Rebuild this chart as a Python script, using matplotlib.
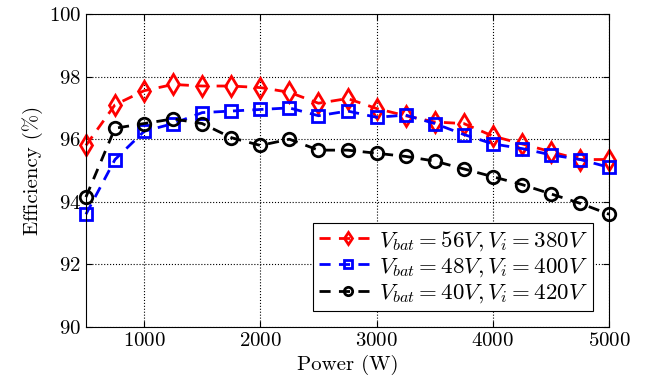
import matplotlib
matplotlib.use("Agg")
import matplotlib.pyplot as plt

plt.rcParams['font.family'] = 'serif'
plt.rcParams['font.serif'] = ['cmr10', 'DejaVu Serif']
plt.rcParams['mathtext.fontset'] = 'cm'
plt.rcParams['axes.formatter.use_mathtext'] = True

power = [500, 750, 1000, 1250, 1500, 1750, 2000, 2250, 2500, 2750,
         3000, 3250, 3500, 3750, 4000, 4250, 4500, 4750, 5000]
eff_56 = [95.8, 97.1, 97.55, 97.75, 97.7, 97.7, 97.65, 97.5, 97.15, 97.3,
          96.98, 96.75, 96.55, 96.5, 96.1, 95.85, 95.6, 95.35, 95.35]
eff_48 = [93.6, 95.35, 96.25, 96.5, 96.85, 96.9, 96.95, 97.0, 96.75, 96.9,
          96.7, 96.77, 96.5, 96.15, 95.85, 95.7, 95.5, 95.35, 95.1]
eff_40 = [94.15, 96.35, 96.5, 96.65, 96.5, 96.05, 95.8, 96.0, 95.65, 95.65,
          95.55, 95.45, 95.3, 95.05, 94.8, 94.55, 94.25, 93.95, 93.6]
labels = [r'$V_{bat}=56V,V_i=380V$', r'$V_{bat}=48V,V_i=400V$', r'$V_{bat}=40V,V_i=420V$']

fig = plt.figure(figsize=(6.46, 3.91), dpi=100)
ax = fig.add_axes([0.133, 0.164, 0.81, 0.8])

ax.plot(power, eff_56, ls=(0, (4, 3)), color='red', lw=2, marker='d', ms=10,
        mfc='none', mew=2, label=labels[0], clip_on=False)
ax.plot(power, eff_48, ls=(0, (4, 3)), color='blue', lw=2, marker='s', ms=8,
        mfc='none', mew=2, label=labels[1], clip_on=False)
ax.plot(power, eff_40, ls=(0, (4, 3)), color='black', lw=2, marker='o', ms=9,
        mfc='none', mew=2, label=labels[2], clip_on=False)

ax.set_xlim(500, 5000)
ax.set_ylim(90, 100)
ax.set_xticks([1000, 2000, 3000, 4000, 5000])
ax.set_yticks([90, 92, 94, 96, 98, 100])
ax.grid(True, ls=':', color='black', lw=0.8)
ax.tick_params(direction='in', top=True, right=True, labelsize=15, length=4)
for s in ax.spines.values():
    s.set_linewidth(0.8)
ax.set_xlabel('Power (W)', fontsize=15)
ax.set_ylabel('Efficiency (%)', fontsize=15)

leg = ax.legend(loc='lower right', fontsize=16.5, fancybox=False, framealpha=1,
                edgecolor='black', handlelength=2.5, handletextpad=0.1,
                borderpad=0.25, labelspacing=0.15, borderaxespad=0.7)
leg.get_frame().set_linewidth(0.8)
for h in leg.legend_handles:
    h.set_markersize(6)

fig.savefig('out.png', dpi=100)
